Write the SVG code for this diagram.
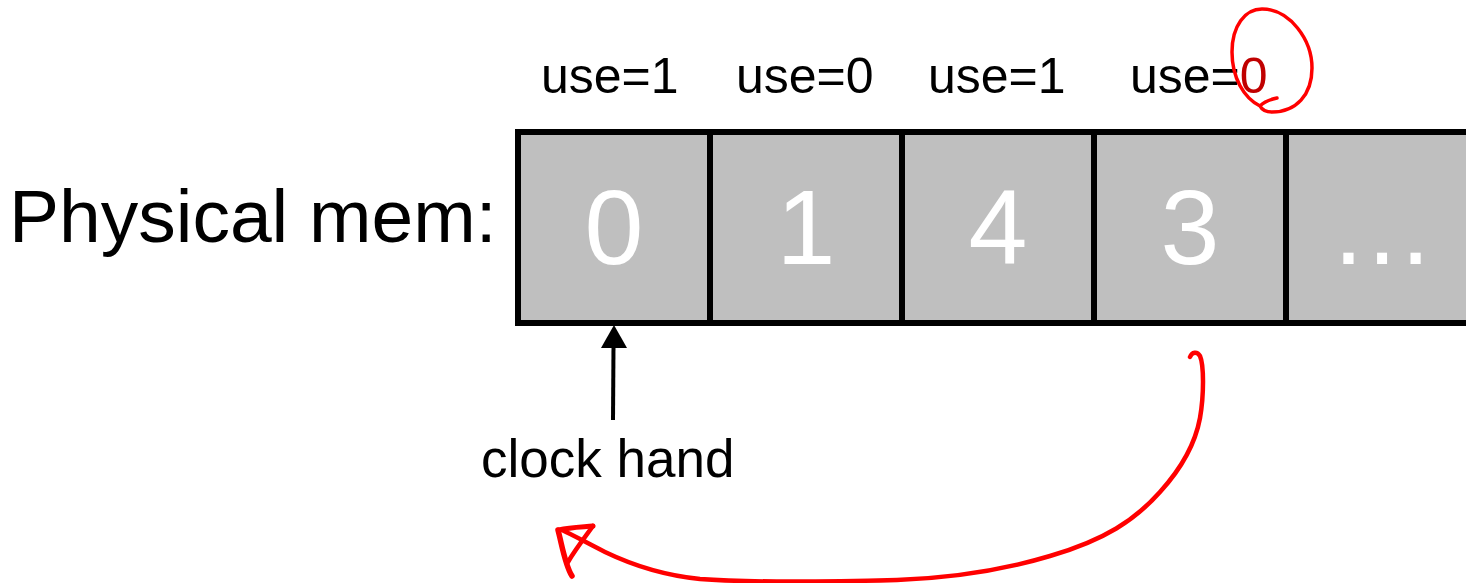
<svg xmlns="http://www.w3.org/2000/svg" width="1466" height="583" viewBox="0 0 1466 583">
<style>
text{font-family:"Liberation Sans",Arial,sans-serif}
.lbl{font-size:50px;fill:#000}
.num{font-size:106px;fill:#fff;text-anchor:middle}
.cell{fill:#bfbfbf;stroke:#000;stroke-width:6}
.red{fill:none;stroke:#ff0000;stroke-linecap:round;stroke-linejoin:round}
</style>
<rect width="1466" height="583" fill="#fff"/>
<text id="title" x="9" y="242" style="font-size:75px">Physical mem:</text>
<g id="use-labels">
<text class="lbl" x="541" y="93">use=1</text>
<text class="lbl" x="736" y="93">use=0</text>
<text class="lbl" x="928" y="93">use=1</text>
<text class="lbl" x="1130" y="93">use=<tspan fill="#c00000">0</tspan></text>
</g>
<g id="memory">
<g id="cell0"><rect class="cell" x="518" y="132" width="192" height="191"/><text class="num" x="614" y="264">0</text></g>
<g id="cell1"><rect class="cell" x="710" y="132" width="192" height="191"/><text class="num" x="806" y="264">1</text></g>
<g id="cell4"><rect class="cell" x="902" y="132" width="192" height="191"/><text class="num" x="998" y="264">4</text></g>
<g id="cell3"><rect class="cell" x="1094" y="132" width="192" height="191"/><text class="num" x="1190" y="264">3</text></g>
<g id="cellmore"><rect class="cell" x="1286" y="132" width="200" height="191"/><text class="num" x="1382" y="264">…</text></g>
</g>
<g id="clock-hand">
<text x="481" y="477" style="font-size:53px">clock hand</text>
</g>
<g id="connectors">
<line x1="613" y1="420" x2="613.5" y2="346" stroke="#000" stroke-width="4"/>
<polygon points="601,348 627,348 614,325" fill="#000"/>
<path class="red" stroke-width="4.5" d="M1190,357 C1192,352 1197,351 1200,356 C1204,365 1204,395 1200,418 C1195,445 1180,470 1160,492 C1135,520 1105,540 1050,556 C1000,571 950,578 897,580 C820,582 740,582 700,579 C660,575 630,564 605,552 C585,542 575,536 562,530"/>
<path class="red" stroke-width="5.5" d="M558,530 C562,545 565,565 572,576"/>
<path class="red" stroke-width="5" d="M559,530 C570,527 582,527 593,526"/>
<path class="red" stroke-width="4.5" d="M593,526 C585,537 575,550 568,562"/>
<path class="red" stroke-width="3.5" d="M1277,98 C1272,99 1264,102 1260,106 C1244,98 1232,78 1232,52 C1232,26 1245,9 1262,9 C1290,9 1312,40 1312,68 C1312,95 1296,112 1272,112 C1266,112 1262,110 1260,106"/>
</g>
</svg>
